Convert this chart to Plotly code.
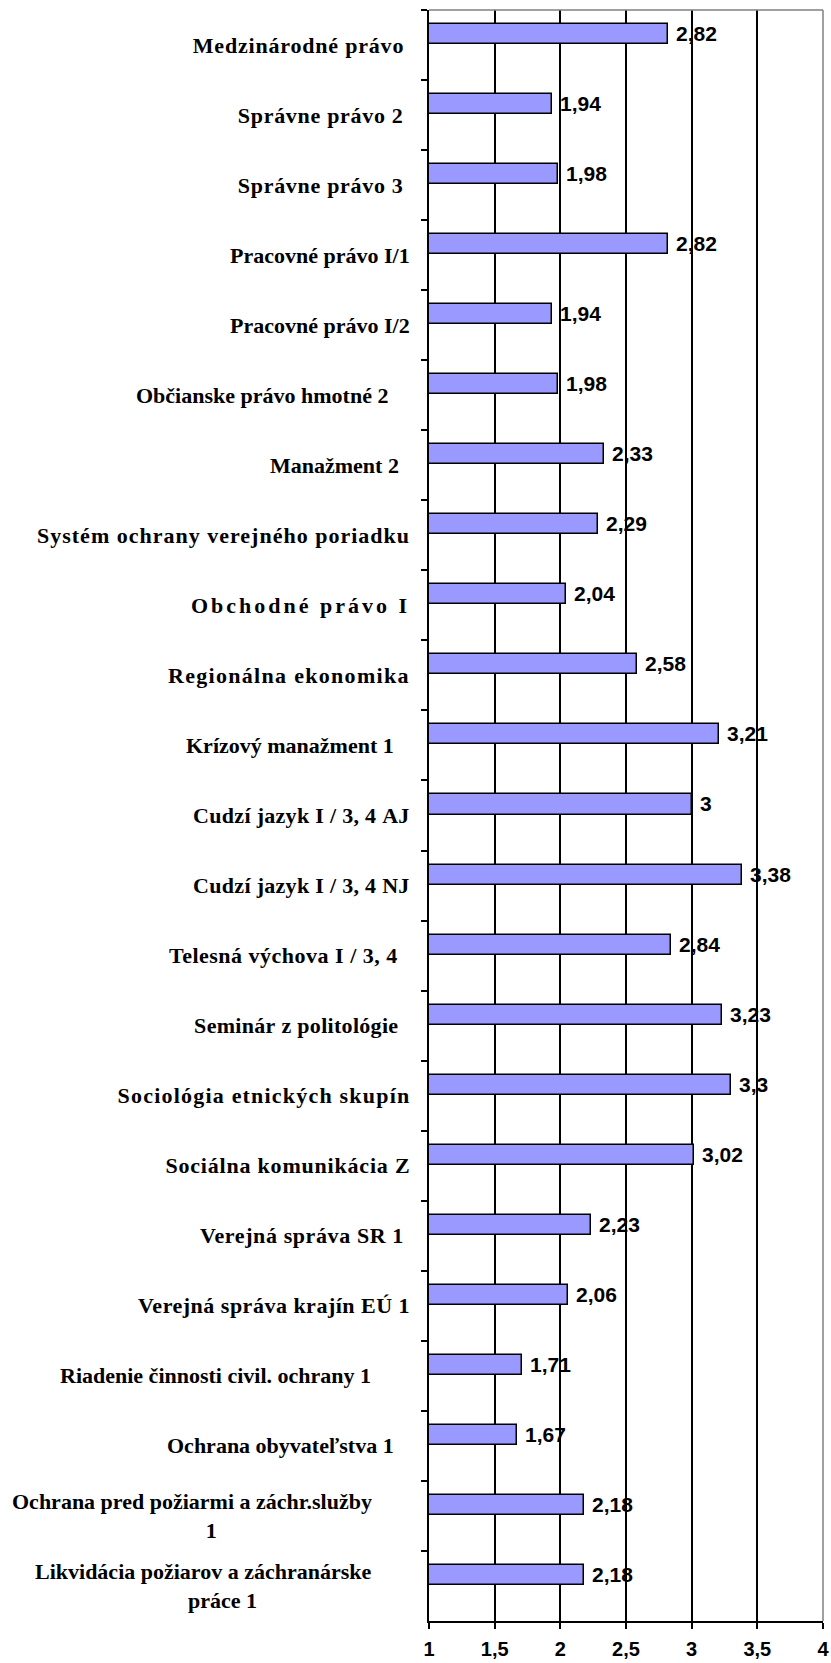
"""Horizontal bar chart: average grades per course (x axis 1-4)."""

import json

import plotly.graph_objects as go

NBSP = "\u00a0"

# top to bottom
COURSES = [
    "Medzinárodné právo",
    "Správne právo 2",
    "Správne právo 3",
    "Pracovné právo I/1",
    "Pracovné právo I/2",
    "Občianske právo hmotné 2",
    "Manažment 2",
    "Systém ochrany verejného poriadku",
    "Obchodné právo I",
    "Regionálna ekonomika",
    "Krízový manažment 1",
    "Cudzí jazyk I / 3, 4 AJ",
    "Cudzí jazyk I / 3, 4 NJ",
    "Telesná výchova I / 3, 4",
    "Seminár z politológie",
    "Sociológia etnických skupín",
    "Sociálna komunikácia Z",
    "Verejná správa SR 1",
    "Verejná správa krajín EÚ 1",
    "Riadenie činnosti civil. ochrany 1",
    "Ochrana obyvateľstva 1",
    "Ochrana pred požiarmi a záchr.služby 1",
    "Likvidácia požiarov a záchranárske práce 1",
]

# category label text as typed in the sheet (trailing spaces kept)
LABELS = [
    "Medzinárodné právo ",
    "Správne právo 2 ",
    "Správne právo 3 ",
    "Pracovné právo I/1",
    "Pracovné právo I/2",
    "Občianske právo hmotné 2    ",
    "Manažment 2  ",
    "Systém ochrany verejného poriadku",
    "Obchodné právo I",
    "Regionálna ekonomika",
    "Krízový manažment 1   ",
    "Cudzí jazyk I / 3, 4 AJ",
    "Cudzí jazyk I / 3, 4 NJ",
    "Telesná výchova I / 3, 4  ",
    "Seminár z politológie  ",
    "Sociológia etnických skupín",
    "Sociálna komunikácia Z",
    "Verejná správa SR 1 ",
    "Verejná správa krajín EÚ 1",
    "Riadenie činnosti civil. ochrany 1       ",
    "Ochrana obyvateľstva 1   ",
    "Ochrana pred požiarmi a záchr.služby       <br>1",
    "Likvidácia požiarov a záchranárske       <br>práce 1",
]

# some labels in the original are set with expanded character spacing (px)
LABEL_SPACING = [0.8, 0.7, 0.7, 0, 0, 0, 0, 1.0, 3.0, 1.3, 0, 0.3,
                 0.3, 0.5, 0.3, 1.2, 0.8, 0.6, 0.5, 0, 0, 0, 0]

GRADES = [2.82, 1.94, 1.98, 2.82, 1.94, 1.98, 2.33, 2.29, 2.04, 2.58, 3.21, 3.0,
          3.38, 2.84, 3.23, 3.3, 3.02, 2.23, 2.06, 1.71, 1.67, 2.18, 2.18]

X_RANGE = [1, 4]

BAR_FILL = "#9999ff"
BORDER_GREY = "#808080"
SERIF = "Liberation Serif, Times New Roman, serif"
SANS = "Liberation Sans, Arial, sans-serif"

value_text = [NBSP + f"{v:g}".replace(".", ",") for v in GRADES]

fig = go.Figure()
fig.add_trace(
    go.Bar(
        x=GRADES,
        y=COURSES,
        orientation="h",
        width=0.286,
        offset=-0.3,
        marker=dict(color=BAR_FILL, line=dict(color="black", width=1.5)),
        text=value_text,
        textposition="outside",
        constraintext="none",
        cliponaxis=False,
        textfont=dict(family=SANS, size=21, color="black", weight="bold"),
        showlegend=False,
        hoverinfo="skip",
    )
)

for course, label in zip(COURSES, LABELS):
    fig.add_annotation(
        x=0,
        xref="paper",
        y=course,
        yref="y",
        text="<b>" + label.replace(" ", NBSP) + "</b>",
        showarrow=False,
        xanchor="right",
        yanchor="middle",
        align="center",
        xshift=-17,
        font=dict(family=SERIF, size=22, color="black"),
    )

# excel-style plot area border (grey) on top and right
fig.add_shape(type="line", xref="paper", yref="paper", x0=0, x1=1, y0=1, y1=1,
              line=dict(color=BORDER_GREY, width=1.5), layer="above")
fig.add_shape(type="line", xref="paper", yref="paper", x0=1, x1=1, y0=0, y1=1,
              line=dict(color=BORDER_GREY, width=1.5), layer="above")

fig.update_layout(
    width=831,
    height=1663,
    margin=dict(l=429, r=8, t=10, b=42),
    plot_bgcolor="white",
    paper_bgcolor="white",
    separators=", ",
    bargap=0,
)
fig.update_xaxes(
    range=X_RANGE,
    dtick=0.5,
    tick0=1,
    showgrid=True,
    gridcolor="black",
    gridwidth=1.5,
    showline=True,
    linecolor="black",
    linewidth=2,
    ticks="outside",
    ticklen=6,
    tickwidth=2,
    tickcolor="black",
    ticklabelstandoff=3,
    tickfont=dict(family=SANS, size=20, color="black", weight="bold"),
    zeroline=False,
    automargin=False,
)
fig.update_yaxes(
    type="category",
    categoryorder="array",
    categoryarray=COURSES,
    autorange="reversed",
    showticklabels=False,
    showgrid=False,
    showline=True,
    linecolor="black",
    linewidth=2,
    ticks="outside",
    tickson="boundaries",
    ticklen=6,
    tickwidth=2,
    tickcolor="black",
    automargin=False,
)

# body margin reset (fixed-size figure must fit the window) and expanded
# letter spacing on some labels, keeping each label's right edge in place
post_js = """
document.body.style.margin = '0';
(function () {
  var spacing = %s;
  var gd = document.getElementById('{plot_id}');
  function spread() {
    spacing.forEach(function (s, i) {
      if (!s) return;
      var t = gd.querySelector('.annotation[data-index="' + i + '"] text.annotation-text');
      if (!t || t.getAttribute('data-spread')) return;
      var b0 = t.getBBox();
      t.style.letterSpacing = s + 'px';
      var b1 = t.getBBox();
      var dx = (b0.x + b0.width) - (b1.x + b1.width);
      t.setAttribute('transform', 'translate(' + dx + ',0)');
      t.setAttribute('data-spread', '1');
    });
  }
  spread();
  gd.on('plotly_afterplot', spread);
})();
""" % json.dumps(LABEL_SPACING)

fig.write_html(
    "out.html",
    config={"displayModeBar": False},
    post_script=post_js,
)
